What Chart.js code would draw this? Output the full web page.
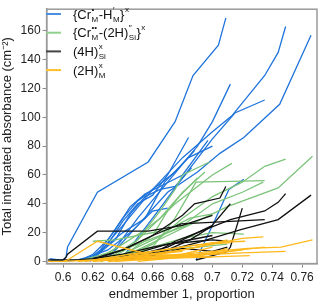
<!DOCTYPE html>
<html>
<head>
<meta charset="utf-8">
<script src="https://cdn.jsdelivr.net/npm/chart.js@4"></script>
<style>
  html, body { margin: 0; padding: 0; background: #fff; }
  #wrap { width: 320px; height: 303px; }
</style>
</head>
<body>
<div id="wrap"><canvas id="grafica"></canvas></div>
<script>
// tick labels
const xTicks = [0.6, 0.62, 0.64, 0.66, 0.68, 0.7, 0.72, 0.74, 0.76];
const yTicks = [0, 20, 40, 60, 80, 100, 120, 140, 160];

// {Cr_M - H_M}x  (blue)
const crH = [
  [[0.592,1],[0.600,1],[0.602,3],[0.603,10],[0.623,48],[0.657,69],[0.675,97],[0.687,129],[0.704,150],[0.709,169]],
  [[0.630,2],[0.650,25],[0.670,48],[0.690,62],[0.705,75],[0.721,86],[0.745,109],[0.766,157]],
  [[0.620,1],[0.640,25],[0.660,50],[0.680,72],[0.700,90],[0.713,101],[0.735,129],[0.744,145],[0.749,163]],
  [[0.640,3],[0.660,30],[0.680,58],[0.700,85],[0.715,103],[0.735,112]],
  [[0.630,2],[0.650,30],[0.670,55],[0.690,80],[0.700,97],[0.712,123]],
  [[0.689,1],[0.700,25],[0.711,50],[0.721,57]],
  [[0.612,1],[0.620,5],[0.630,15],[0.640,30],[0.650,42],[0.660,50],[0.675,62],[0.688,77]],
  [[0.615,0],[0.625,8],[0.635,22],[0.645,38],[0.655,47],[0.665,52],[0.680,60],[0.697,84]],
  [[0.610,1],[0.620,3],[0.630,12],[0.640,28],[0.650,40],[0.660,46],[0.670,60],[0.684,86]],
  [[0.620,2],[0.635,15],[0.645,33],[0.655,45],[0.665,50],[0.675,52],[0.686,65]],
  [[0.618,0],[0.628,10],[0.640,20],[0.655,30],[0.668,55],[0.684,72],[0.700,80]],
  [[0.600,0],[0.610,1],[0.620,4],[0.630,8],[0.645,20],[0.660,35],[0.670,37]],
  [[0.591,2],[0.597,1]]
];

// {Cr_M - (2H)_Si}x  (green)
const cr2H = [
  [[0.625,0],[0.640,5],[0.660,15],[0.680,25],[0.700,40],[0.720,48],[0.734,55]],
  [[0.630,1],[0.650,8],[0.670,18],[0.690,28],[0.710,38],[0.744,51],[0.767,73]],
  [[0.640,2],[0.660,12],[0.680,30],[0.700,45],[0.720,55],[0.735,66],[0.749,71]],
  [[0.630,1],[0.645,10],[0.660,25],[0.675,40],[0.690,52],[0.700,60],[0.713,68]],
  [[0.620,0],[0.635,5],[0.650,15],[0.665,35],[0.675,50],[0.680,60],[0.698,69]],
  [[0.640,1],[0.660,10],[0.675,30],[0.689,55],[0.735,56]],
  [[0.620,1],[0.640,4],[0.660,10],[0.680,16],[0.700,20],[0.721,19]],
  [[0.610,0],[0.630,6],[0.640,8],[0.650,12],[0.670,20],[0.690,28]],
  [[0.625,3],[0.640,12],[0.655,22],[0.665,30],[0.675,42],[0.690,58]],
  [[0.620,14],[0.635,15],[0.650,18],[0.670,22],[0.685,30],[0.700,33]],
  [[0.630,1],[0.650,4],[0.670,8],[0.690,10],[0.710,12]],
  [[0.640,4],[0.660,18],[0.670,35],[0.680,48],[0.695,62]]
];

// (4H)_Si x  (black)
const h4Si = [
  [[0.590,1],[0.600,1],[0.602,3],[0.603,5],[0.623,21],[0.657,21],[0.680,25],[0.700,32]],
  [[0.630,1],[0.660,5],[0.690,13],[0.719,22],[0.744,29],[0.766,46]],
  [[0.640,2],[0.670,10],[0.690,20],[0.712,29],[0.735,35],[0.744,41],[0.749,47]],
  [[0.689,1],[0.700,4],[0.710,7],[0.712,10],[0.720,37]],
  [[0.620,1],[0.640,8],[0.660,18],[0.680,32],[0.688,40],[0.705,44],[0.709,52]],
  [[0.650,2],[0.670,8],[0.685,15],[0.699,24],[0.712,40]],
  [[0.620,2],[0.640,8],[0.660,18],[0.679,26],[0.735,29]],
  [[0.630,1],[0.650,6],[0.670,12],[0.690,14],[0.700,15],[0.710,14]],
  [[0.600,1],[0.610,1],[0.620,2],[0.640,5],[0.660,10],[0.680,14],[0.700,18]],
  [[0.640,1],[0.660,4],[0.680,9],[0.700,7],[0.710,10]],
  [[0.650,2],[0.665,8],[0.675,14],[0.690,20],[0.700,25]]
];

// (2H)_M x  (orange)
const h2M = [
  [[0.590,0],[0.600,0],[0.603,1],[0.623,14],[0.657,5],[0.700,3]],
  [[0.620,0],[0.640,2],[0.670,4],[0.700,7],[0.724,9],[0.746,10],[0.767,15]],
  [[0.630,0],[0.660,3],[0.690,5],[0.710,7],[0.735,10]],
  [[0.640,1],[0.670,3],[0.700,5],[0.720,6],[0.749,7]],
  [[0.620,0],[0.650,4],[0.680,8],[0.700,12],[0.720,16],[0.734,17]],
  [[0.610,0],[0.640,2],[0.670,6],[0.690,10],[0.710,15]],
  [[0.620,1],[0.650,3],[0.680,5],[0.700,10]],
  [[0.630,0],[0.660,2],[0.690,4],[0.720,8]],
  [[0.600,0],[0.620,1],[0.640,3],[0.660,5],[0.680,7]],
  [[0.650,0],[0.680,3],[0.700,6],[0.710,9]],
  [[0.625,0],[0.655,6],[0.685,11],[0.712,13]],
  [[0.615,0],[0.645,5],[0.675,9],[0.700,13],[0.722,14]],
  [[0.635,0],[0.665,2],[0.695,3],[0.725,4]]
];

const groupColors = ['#1f74db', '#7cc47a', '#111111', '#ffb81c'];
const legendColors = ['#4a90e0', '#8fd08c', '#444444', '#ffbf2a'];
// legend labels: plain text pieces and sub/sup pairs
const legendLabels = [
  [{t:'{Cr'}, {sub:'M', sup:'•'}, {t:'-H'}, {sub:'M', sup:'′'}, {t:'}'}, {sup:'x'}],
  [{t:'{Cr'}, {sub:'M', sup:'••'}, {t:'-(2H)'}, {sub:'Si', sup:'′′'}, {t:'}'}, {sup:'x'}],
  [{t:'(4H)'}, {sub:'Si', sup:'x'}],
  [{t:'(2H)'}, {sub:'M', sup:'x'}]
];

const FONT = "'Liberation Sans', Arial, sans-serif";

function toPts(line) { return line.map(p => ({x: p[0], y: p[1]})); }

const datasets = [];
[crH, cr2H, h4Si, h2M].forEach((grp, gi) => {
  grp.forEach(line => {
    datasets.push({
      data: toPts(line),
      borderColor: groupColors[gi],
      backgroundColor: groupColors[gi],
      borderWidth: 1.3,
      pointRadius: 0,
      showLine: true,
      tension: 0,
      order: 4 - gi
    });
  });
});

const framePlugin = {
  id: 'frame',
  afterDraw(chart) {
    const ctx = chart.ctx, a = chart.chartArea;
    ctx.save();
    ctx.strokeStyle = '#9a9a9a';
    ctx.lineWidth = 1.5;
    ctx.strokeRect(a.left, a.top, a.right - a.left, a.bottom - a.top);
    ctx.restore();
  }
};

const legendPlugin = {
  id: 'richLegend',
  afterDraw(chart) {
    const ctx = chart.ctx;
    ctx.save();
    legendLabels.forEach((lab, i) => {
      const y = 14 + i * 18.7;
      ctx.strokeStyle = legendColors[i];
      ctx.lineWidth = 2;
      ctx.beginPath();
      ctx.moveTo(46, y);
      ctx.lineTo(61, y);
      ctx.stroke();
      let x = 73;
      ctx.fillStyle = '#111';
      ctx.textBaseline = 'alphabetic';
      const base = y + 4.5;
      lab.forEach(seg => {
        if (seg.t) {
          ctx.font = '13px ' + FONT;
          ctx.fillText(seg.t, x, base);
          x += ctx.measureText(seg.t).width;
        } else {
          ctx.font = '8px ' + FONT;
          let w = 0;
          if (seg.sup) { ctx.fillText(seg.sup, x + 0.5, base - 7); w = Math.max(w, ctx.measureText(seg.sup).width); }
          if (seg.sub) { ctx.fillText(seg.sub, x + 0.5, base + 3); w = Math.max(w, ctx.measureText(seg.sub).width); }
          x += w + 1;
        }
      });
    });
    ctx.restore();
  }
};

new Chart(document.getElementById('grafica'), {
  type: 'scatter',
  data: { datasets: datasets },
  options: {
    responsive: true,
    maintainAspectRatio: false,
    animation: false,
    layout: { padding: { top: 3, right: 3, left: 0, bottom: 0 } },
    plugins: {
      legend: { display: false },
      tooltip: { enabled: false }
    },
    scales: {
      x: {
        type: 'linear',
        min: 0.589,
        max: 0.770,
        afterBuildTicks: s => { s.ticks = xTicks.map(v => ({value: v})); },
        ticks: {
          autoSkip: false, maxRotation: 0, padding: 3, color: '#222',
          font: { family: FONT, size: 12 },
          callback: v => String(+(+v).toFixed(2))
        },
        grid: { drawOnChartArea: false, tickLength: 4, color: '#888', tickWidth: 1 },
        border: { color: '#999', width: 1.5 },
        title: {
          display: true, text: 'endmember 1, proportion', color: '#222',
          font: { family: FONT, size: 13, lineHeight: 1.0 }, padding: { top: 0, bottom: 2 }
        }
      },
      y: {
        min: -1.5,
        max: 175,
        afterBuildTicks: s => { s.ticks = yTicks.map(v => ({value: v})); },
        ticks: {
          autoSkip: false, padding: 2, color: '#222',
          font: { family: FONT, size: 12 }
        },
        grid: { drawOnChartArea: false, tickLength: 4, color: '#888', tickWidth: 1 },
        border: { color: '#999', width: 1.5 },
        title: {
          display: true, text: 'Total integrated absorbance (cm⁻²)', color: '#222',
          font: { family: FONT, size: 13 }, padding: { top: 0, bottom: 3 }
        }
      }
    }
  },
  plugins: [framePlugin, legendPlugin]
});
</script>
</body>
</html>
